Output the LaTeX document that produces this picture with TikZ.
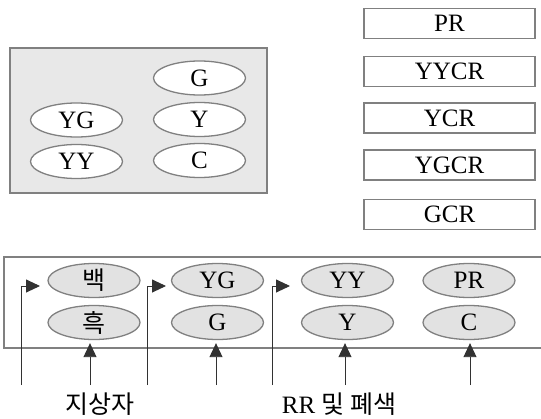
\documentclass[tikz,border=0pt]{standalone}
\usepackage{fontspec}
\setmainfont{Liberation Serif}
\newfontfamily\kr{Noto Sans CJK KR}
\usepackage{tikz}
\usetikzlibrary{shapes.geometric, arrows.meta, positioning}
\definecolor{framegray}{RGB}{128,128,128}
\definecolor{panelgray}{RGB}{232,232,232}
\definecolor{lampgray}{RGB}{226,226,226}
\definecolor{arrowgray}{RGB}{50,50,50}

\begin{document}
\begin{tikzpicture}[x=1pt, y=-1pt,
 panel/.style={draw=framegray, line width=1.6pt, inner sep=0pt},
 lamp/.style={ellipse, draw=framegray, line width=1.3pt, minimum width=92pt, minimum height=34pt, inner sep=0pt, font=\fontsize{25}{25}\selectfont},
 aspect/.style={draw=framegray, line width=1.6pt, minimum width=171pt, minimum height=30pt, inner sep=0pt, font=\fontsize{25}{25}\selectfont},
 feed/.style={draw=arrowgray, line width=0.9pt, -{Triangle[width=13pt, length=14pt]}}]
 \useasboundingbox (0,0) rectangle (541,418);
 % signal lamps of the signal head
 \node[panel, fill=panelgray, minimum width=257pt, minimum height=145pt] (head) at (138.5,120.5){};
 \node[lamp, fill=white] (hG) at (199.5,78){G};
 \node[lamp, fill=white] (hY) at (199.5,119.5){Y};
 \node[lamp, fill=white] (hC) at (199.5,160.5){C};
 \node[lamp, fill=white] (hYG) at (76.5,120){YG};
 \node[lamp, fill=white] (hYY) at (76.5,161.5){YY};
 % aspects
 \node[aspect] (aPR) at (449.5,23.5){PR};
 \node[aspect] (aYYCR) at (449.5,71.5){YYCR};
 \node[aspect] (aYCR) at (449.5,118){YCR};
 \node[aspect] (aYGCR) at (449.5,165){YGCR};
 \node[aspect] (aGCR) at (449.5,214.5){GCR};
 % lamp groups in a row
 \draw[draw=framegray, line width=1.6pt] (4,257) rectangle (548,348);
 \node[lamp, fill=lampgray] (baek) at (94,280.5){\kr 백};
 \node[lamp, fill=lampgray] (heuk) at (94,322.5){\kr 흑};
 \node[lamp, fill=lampgray] (rYG) at (217.5,280.5){YG};
 \node[lamp, fill=lampgray] (rG) at (217.5,322.5){G};
 \node[lamp, fill=lampgray] (rYY) at (347.5,280.5){YY};
 \node[lamp, fill=lampgray] (rY) at (347.5,322.5){Y};
 \node[lamp, fill=lampgray] (rPR) at (469,280.5){PR};
 \node[lamp, fill=lampgray] (rC) at (469,322.5){C};
 % feeds
 \coordinate (s1) at (21,385);
 \coordinate (s2) at (147,385);
 \coordinate (s3) at (272,385);
 \coordinate (t1) at (40,286);
 \coordinate (t2) at (166,286);
 \coordinate (t3) at (290,286);
 \draw[feed] (s1) |- (t1);
 \draw[feed] (s2) |- (t2);
 \draw[feed] (s3) |- (t3);
 \coordinate (u1) at (90,385);
 \coordinate (u2) at (216,385);
 \coordinate (u3) at (345,385);
 \coordinate (u4) at (470,385);
 \draw[feed, shorten >=3pt] (u1) -- (u1 |- heuk.south);
 \draw[feed, shorten >=3pt] (u2) -- (u2 |- rG.south);
 \draw[feed, shorten >=3pt] (u3) -- (u3 |- rY.south);
 \draw[feed, shorten >=3pt] (u4) -- (u4 |- rC.south);
 \node[font=\fontsize{25}{25}\selectfont] (wayside) at (100,404){\kr 지상자};
 \node[font=\fontsize{25}{25}\selectfont] (block) at (339,404){RR {\kr 및 폐색}};
\end{tikzpicture}
\end{document}
